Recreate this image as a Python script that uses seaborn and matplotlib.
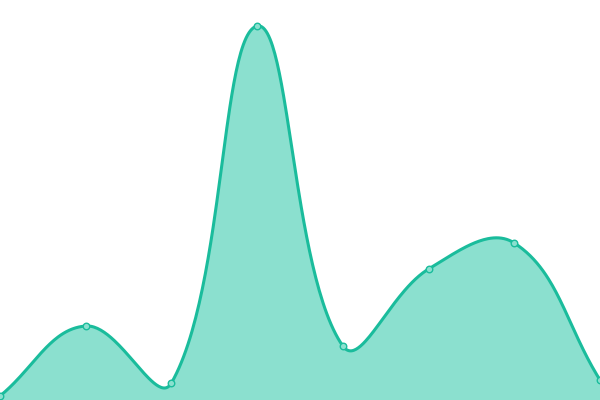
import numpy as np
import pandas as pd
import matplotlib
matplotlib.use("Agg")
import matplotlib.pyplot as plt
import seaborn as sns

# values (0 = bottom edge, 400 = top edge)
x_idx = [0, 1, 2, 3, 4, 5, 6, 7]
values = [4, 74, 17, 374, 54, 131, 157, 20]

line_color = "#1abc9c"
fill_color = "#8be0cf"

px_per_step = 600 / 7  # horizontal pixels per category


def smooth_bezier(xs, ys, smooth=0.4, n=60):
    # bezier smoothing done in pixel space, control points weighted
    # by the distance to the neighbours
    p = np.column_stack([np.asarray(xs, float) * px_per_step,
                         np.asarray(ys, float)])
    m = len(p)
    cps = []
    for i in range(m):
        prev = p[max(i - 1, 0)]
        nxt = p[min(i + 1, m - 1)]
        v = nxt - prev
        d0 = np.linalg.norm(p[i] - prev)
        d1 = np.linalg.norm(p[i] - nxt)
        s = d0 + d1
        if s:
            d0, d1 = d0 / s, d1 / s
        cps.append((p[i] - v * smooth * d0, p[i] + v * smooth * d1))
    out = []
    t = np.linspace(0, 1, n, endpoint=False)[:, None]
    for i in range(m - 1):
        a, b = p[i], cps[i][1]
        c, d = cps[i + 1][0], p[i + 1]
        out.append((1 - t) ** 3 * a + 3 * (1 - t) ** 2 * t * b
                   + 3 * (1 - t) * t ** 2 * c + t ** 3 * d)
    out.append(p[-1][None, :])
    out = np.vstack(out)
    return out[:, 0] / px_per_step, out[:, 1]


sx, sy = smooth_bezier(x_idx, values)
smooth = pd.DataFrame({"x": sx, "y": sy})
pts = pd.DataFrame({"x": x_idx, "y": values})

sns.set_style("white")
fig = plt.figure(figsize=(6, 4), dpi=100)
ax = fig.add_axes([0, 0, 1, 1])

ax.fill_between(smooth["x"], smooth["y"], 0, color=fill_color, lw=0, zorder=1)
sns.lineplot(data=smooth, x="x", y="y", ax=ax, color=line_color, lw=2.2,
             sort=False, zorder=2)
sns.scatterplot(data=pts, x="x", y="y", ax=ax, s=22, color=fill_color,
                edgecolor=line_color, linewidth=1.0, zorder=3, clip_on=False)

ax.set_xlim(0, 7)
ax.set_ylim(0, 400)
ax.axis("off")

fig.savefig("out.png", dpi=100)
